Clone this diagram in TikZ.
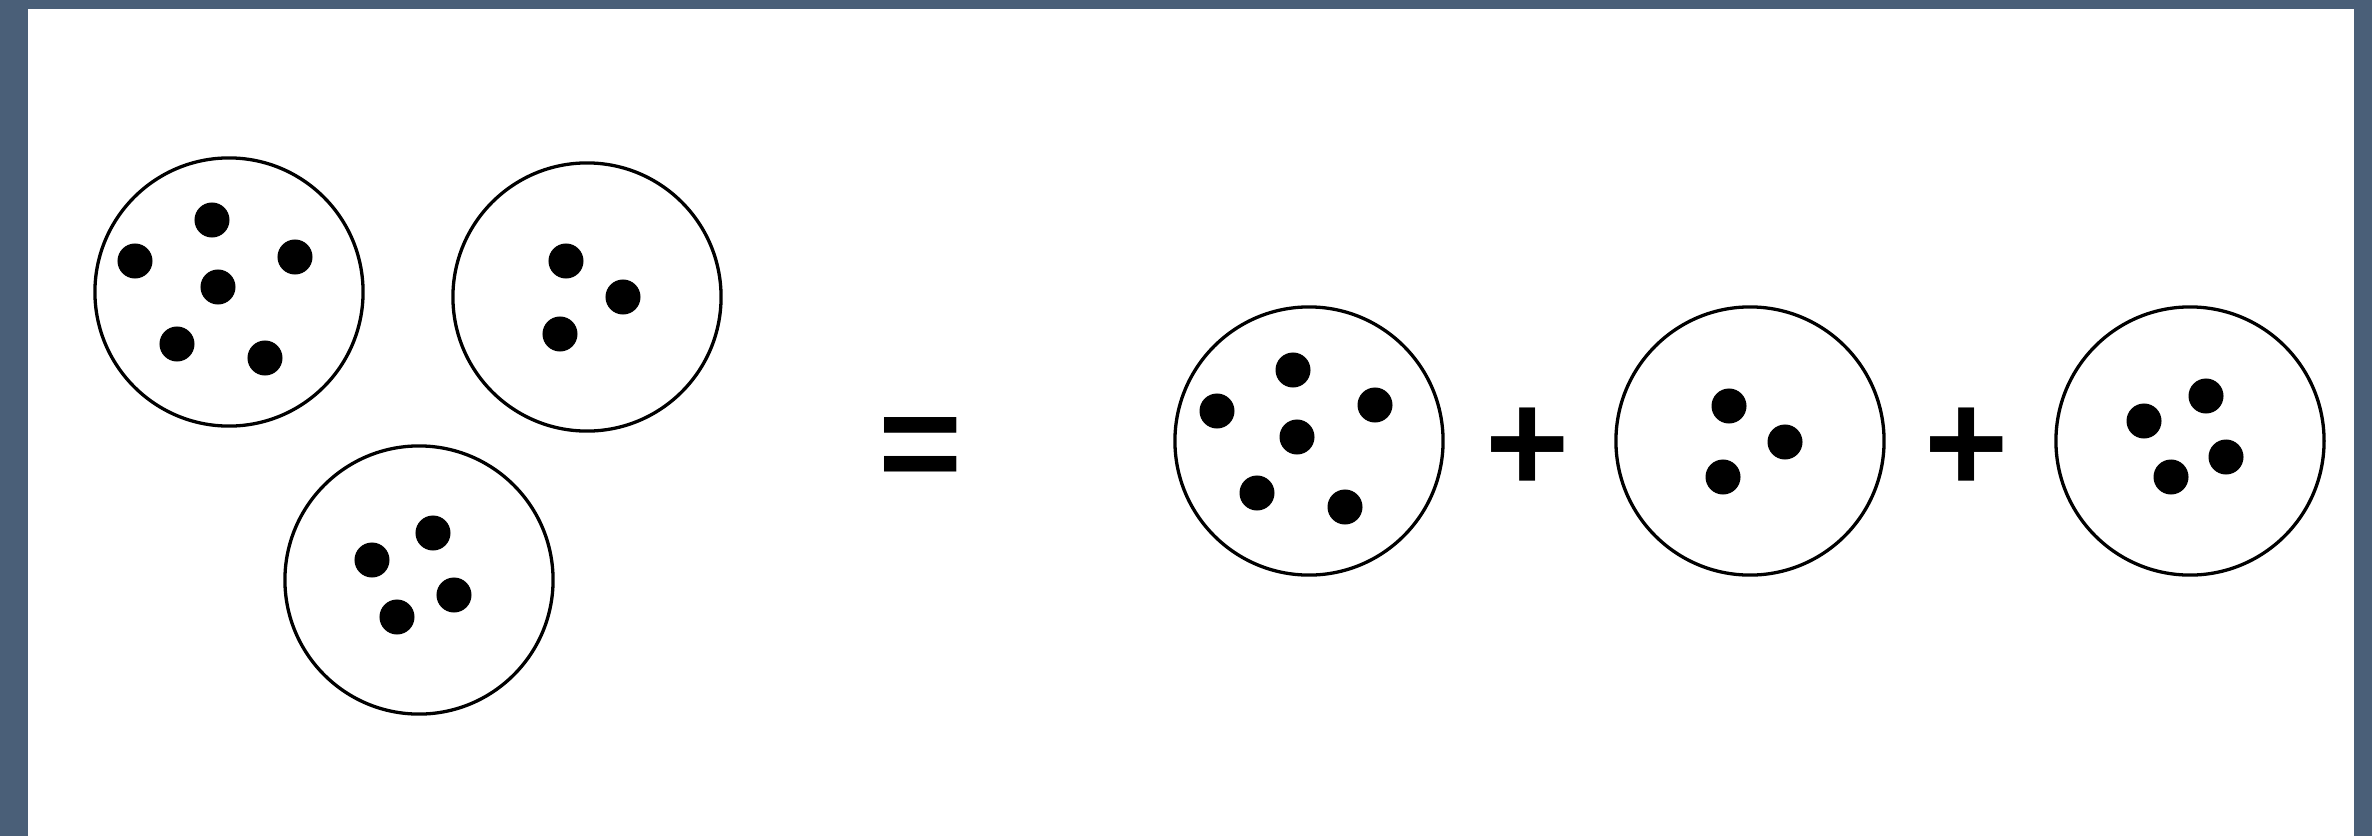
\documentclass[tikz,border=0pt]{standalone}
\usepackage{fontspec}
\setmainfont{Liberation Sans}
\definecolor{frame}{HTML}{4A5F78}
\begin{document}
\begin{tikzpicture}[x=0.01cm,y=-0.01cm,
  cell/.style={circle,draw=black,line width=0.033cm,minimum size=2.68cm,inner sep=0pt},
  dot/.style={circle,fill=black,minimum size=0.35cm,inner sep=0pt},
  sym/.style={inner sep=0pt,font=\fontsize{41}{41}\selectfont\bfseries}]
\fill[frame] (0,0) rectangle (2372,836);
\fill[white] (28,9) rectangle (2354,836);
\useasboundingbox (0,0) rectangle (2372,836);
% left group
\node[cell] (c1) at (229,292) {};
\node[dot] (c1a) at (212,220) {};
\node[dot] (c1b) at (135,261) {};
\node[dot] (c1c) at (295,257) {};
\node[dot] (c1d) at (218,287) {};
\node[dot] (c1e) at (177,344) {};
\node[dot] (c1f) at (265,358) {};
\node[cell] (c2) at (587,297) {};
\node[dot] (c2a) at (566,261) {};
\node[dot] (c2b) at (623,297) {};
\node[dot] (c2c) at (560,334) {};
\node[cell] (c3) at (419,580) {};
\node[dot] (c3a) at (433,533) {};
\node[dot] (c3b) at (372,560) {};
\node[dot] (c3c) at (454,595) {};
\node[dot] (c3d) at (397,617) {};
% equals
\node[sym] (eq) at (921,455) {=};
% right group
\node[cell] (c4) at (1309,441) {};
\node[dot] (c4a) at (1293,370) {};
\node[dot] (c4b) at (1217,411) {};
\node[dot] (c4c) at (1375,405) {};
\node[dot] (c4d) at (1297,437) {};
\node[dot] (c4e) at (1257,493) {};
\node[dot] (c4f) at (1345,507) {};
\node[sym] (p1) at (1528,450) {+};
\node[cell] (c5) at (1750,441) {};
\node[dot] (c5a) at (1729,406) {};
\node[dot] (c5b) at (1785,442) {};
\node[dot] (c5c) at (1723,477) {};
\node[sym] (p2) at (1967,450) {+};
\node[cell] (c6) at (2190,441) {};
\node[dot] (c6a) at (2206,396) {};
\node[dot] (c6b) at (2144,421) {};
\node[dot] (c6c) at (2226,457) {};
\node[dot] (c6d) at (2171,477) {};
\end{tikzpicture}
\end{document}
